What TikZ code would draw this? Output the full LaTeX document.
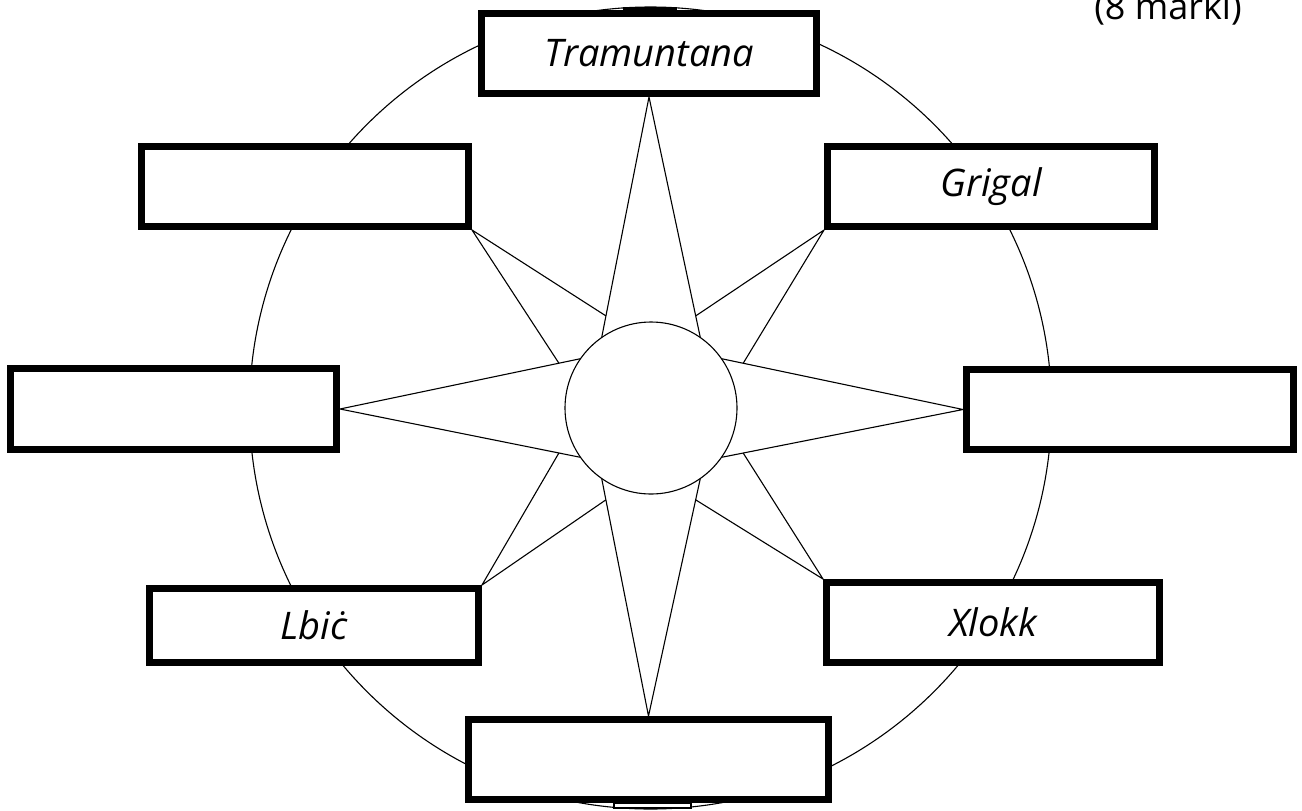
\documentclass[tikz,border=0pt]{standalone}
\usepackage{fontspec}
\setmainfont{Open Sans}
\usetikzlibrary{calc}
\begin{document}
\begin{tikzpicture}[x=0.5pt,y=-0.5pt,
  thinline/.style={line width=0.55pt},
  answerbox/.style={draw, line width=3.7pt, fill=white, inner sep=0pt,
    font=\fontsize{19}{21}\selectfont\itshape}]
\clip (0,0) rectangle (1302,810);
\fill[white] (0,0) rectangle (1302,810);
% outer circle and its small tabs
\draw[thinline] (650.5,408) circle[radius=200.5pt];
\fill[black] (623,7) rectangle (677,11);
\draw[thinline, fill=white] (614,803) rectangle (691,808);
% boxes
\node[answerbox, minimum width=167.25pt, minimum height=39.75pt] (T)  at (649,53.5)   {Tramuntana};
\node[answerbox, minimum width=163.25pt, minimum height=39.75pt] (NW) at (305,186.5)  {};
\node[answerbox, minimum width=163.25pt, minimum height=39.75pt] (NE) at (991,186.5)  {Grigal};
\node[answerbox, minimum width=162.75pt, minimum height=40.25pt] (W)  at (173.5,409)  {};
\node[answerbox, minimum width=163.25pt, minimum height=39.75pt] (E)  at (1130,409.5) {};
\node[answerbox, minimum width=164.25pt, minimum height=36.75pt] (SW) at (314,625.5)  {Lbiċ};
\node[answerbox, minimum width=179.75pt, minimum height=39.75pt] (S)  at (648.5,759.5) {};
\node[answerbox, minimum width=166.25pt, minimum height=39.75pt] (SE) at (993,622.5)  {Xlokk};
\node[anchor=base, font=\fontsize{18}{20}\selectfont] (marks) at (1168,19) {(8 marki)};
% star
\coordinate (O) at (651,408);
\foreach \a in {35,55,125,145,215,235,305,325}
  \coordinate (c\a) at ($(O)+(-\a:86)$);
\draw[thinline] (O) circle[radius=43pt];
\draw[thinline] (T.south) -- (c55)  (T.south) -- (c125);
\draw[thinline] (W.east)  -- (c145) (W.east)  -- (c215);
\draw[thinline] (S.north) -- (c235) (S.north) -- (c305);
\draw[thinline] (E.west)  -- (c325) (E.west)  -- (c35);
\coordinate (nl) at ($(T.south)!0.91!(c125)$);
\coordinate (nr) at ($(T.south)!0.91!(c55)$);
\coordinate (wu) at ($(W.east)!0.91!(c145)$);
\coordinate (wd) at ($(W.east)!0.91!(c215)$);
\coordinate (sl) at ($(S.north)!0.91!(c235)$);
\coordinate (sr) at ($(S.north)!0.91!(c305)$);
\coordinate (eu) at ($(E.west)!0.91!(c35)$);
\coordinate (ed) at ($(E.west)!0.91!(c325)$);
\draw[thinline] (NW.south east) -- (nl) (NW.south east) -- (wu);
\draw[thinline] (NE.south west) -- (nr) (NE.south west) -- (eu);
\draw[thinline] (SW.north east) -- (wd) (SW.north east) -- (sl);
\draw[thinline] (SE.north west) -- (sr) (SE.north west) -- (ed);
\end{tikzpicture}
\end{document}
